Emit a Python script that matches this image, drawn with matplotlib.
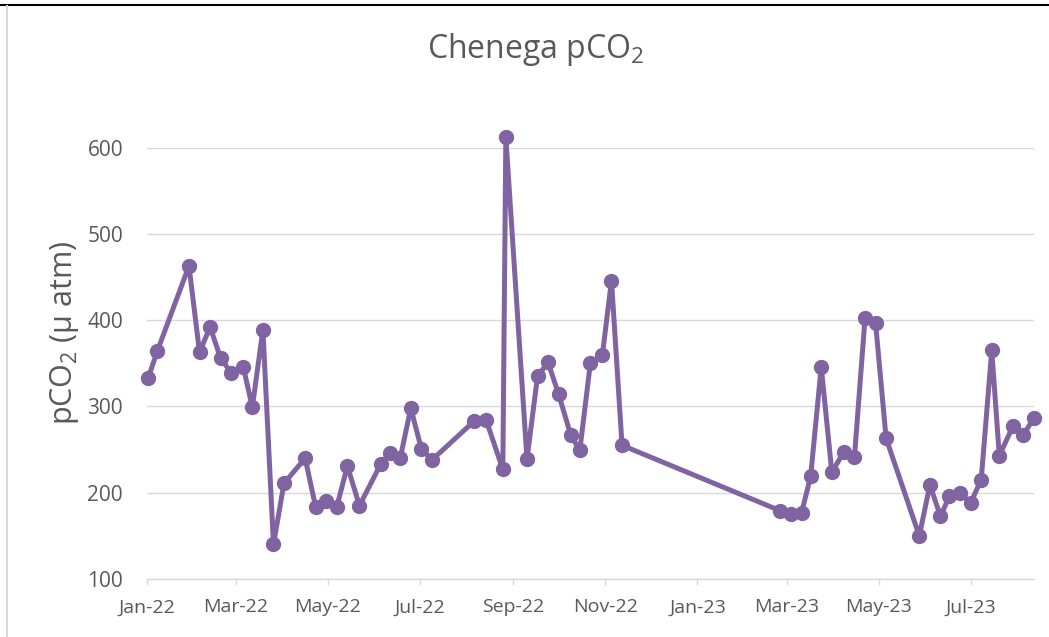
import matplotlib
matplotlib.use("Agg")
from matplotlib import pyplot as plt
import matplotlib.dates as mdates
import pandas as pd

plt.rcParams['font.family'] = ['Open Sans', 'DejaVu Sans']
plt.rcParams['mathtext.fontset'] = 'custom'
plt.rcParams['mathtext.rm'] = 'Open Sans'
plt.rcParams['mathtext.it'] = 'Open Sans'

# sampling dates and pCO2 values
dates = ["2022-01-02", "2022-01-08", "2022-01-29", "2022-02-05", "2022-02-12",
         "2022-02-19", "2022-02-26", "2022-03-06", "2022-03-12", "2022-03-19",
         "2022-03-26", "2022-04-02", "2022-04-16", "2022-04-23", "2022-04-30",
         "2022-05-07", "2022-05-14", "2022-05-22", "2022-06-05", "2022-06-11",
         "2022-06-18", "2022-06-25", "2022-07-02", "2022-07-09", "2022-08-06",
         "2022-08-14", "2022-08-25", "2022-08-27", "2022-09-10", "2022-09-17",
         "2022-09-24", "2022-10-01", "2022-10-09", "2022-10-15", "2022-10-22",
         "2022-10-30", "2022-11-05", "2022-11-12", "2023-02-25", "2023-03-04",
         "2023-03-11", "2023-03-17", "2023-03-24", "2023-03-31", "2023-04-08",
         "2023-04-15", "2023-04-22", "2023-04-29", "2023-05-06", "2023-05-28",
         "2023-06-04", "2023-06-11", "2023-06-17", "2023-06-24", "2023-07-01",
         "2023-07-08", "2023-07-15", "2023-07-20", "2023-07-29", "2023-08-05",
         "2023-08-12"]
pco2 = [333, 364, 463, 363, 392, 356, 339, 346, 299, 389,
        140, 211, 240, 183, 191, 184, 231, 185, 233, 246,
        240, 298, 251, 238, 283, 284, 227, 612, 239, 335,
        351, 314, 267, 249, 350, 360, 446, 255, 179, 175,
        177, 219, 346, 224, 247, 241, 402, 397, 263, 150,
        209, 173, 196, 200, 188, 215, 365, 243, 277, 267,
        287]
yticks = [100, 200, 300, 400, 500, 600]

t = pd.to_datetime(dates)
grey = '#595959'

fig = plt.figure(figsize=(10.49, 6.37), dpi=100)
ax = fig.add_axes([146.7/1049, 1-579/637, (1034-146.7)/1049, (579-147.7)/637])

ax.plot(t, pco2, '-o', color='#8064A2', lw=3.6, markersize=10, clip_on=False, zorder=3)

ax.set_ylim(100, 600)
ax.set_yticks(yticks)
ax.set_xlim(pd.Timestamp("2022-01-01"), pd.Timestamp("2023-08-12"))
ax.xaxis.set_major_locator(mdates.MonthLocator(bymonth=[1, 3, 5, 7, 9, 11]))
ax.xaxis.set_major_formatter(mdates.DateFormatter('%b-%y'))

ax.grid(axis='y', color='#d9d9d9', lw=1)
ax.set_axisbelow(True)
for s in ['top', 'right', 'left']:
    ax.spines[s].set_visible(False)
ax.spines['bottom'].set_color('#d9d9d9')
ax.spines['bottom'].set_linewidth(1)
ax.tick_params(axis='y', length=0, pad=17, labelsize=15, labelcolor=grey)
ax.tick_params(axis='x', length=4, width=1, color='#d9d9d9', pad=10,
               labelsize=14, labelcolor=grey)

ax.set_ylabel(r'pCO$_\mathrm{2}$ ($\mathrm{\mu}$ atm)', fontsize=22, color=grey)
ax.yaxis.set_label_coords(-0.074, 0.57)

fig.text(536/1049, 1-50/637, r'Chenega pCO$_\mathrm{2}$', fontsize=23, color=grey,
         ha='center', va='center')

# frame edges of the original screenshot
fig.add_artist(plt.Line2D([0, 1], [1-4.5/637, 1-4.5/637], color='black', lw=1.5))
fig.add_artist(plt.Line2D([7/1049, 7/1049], [0, 1-6/637], color='#d9d9d9', lw=1.5))

fig.savefig('out.png', dpi=100)
